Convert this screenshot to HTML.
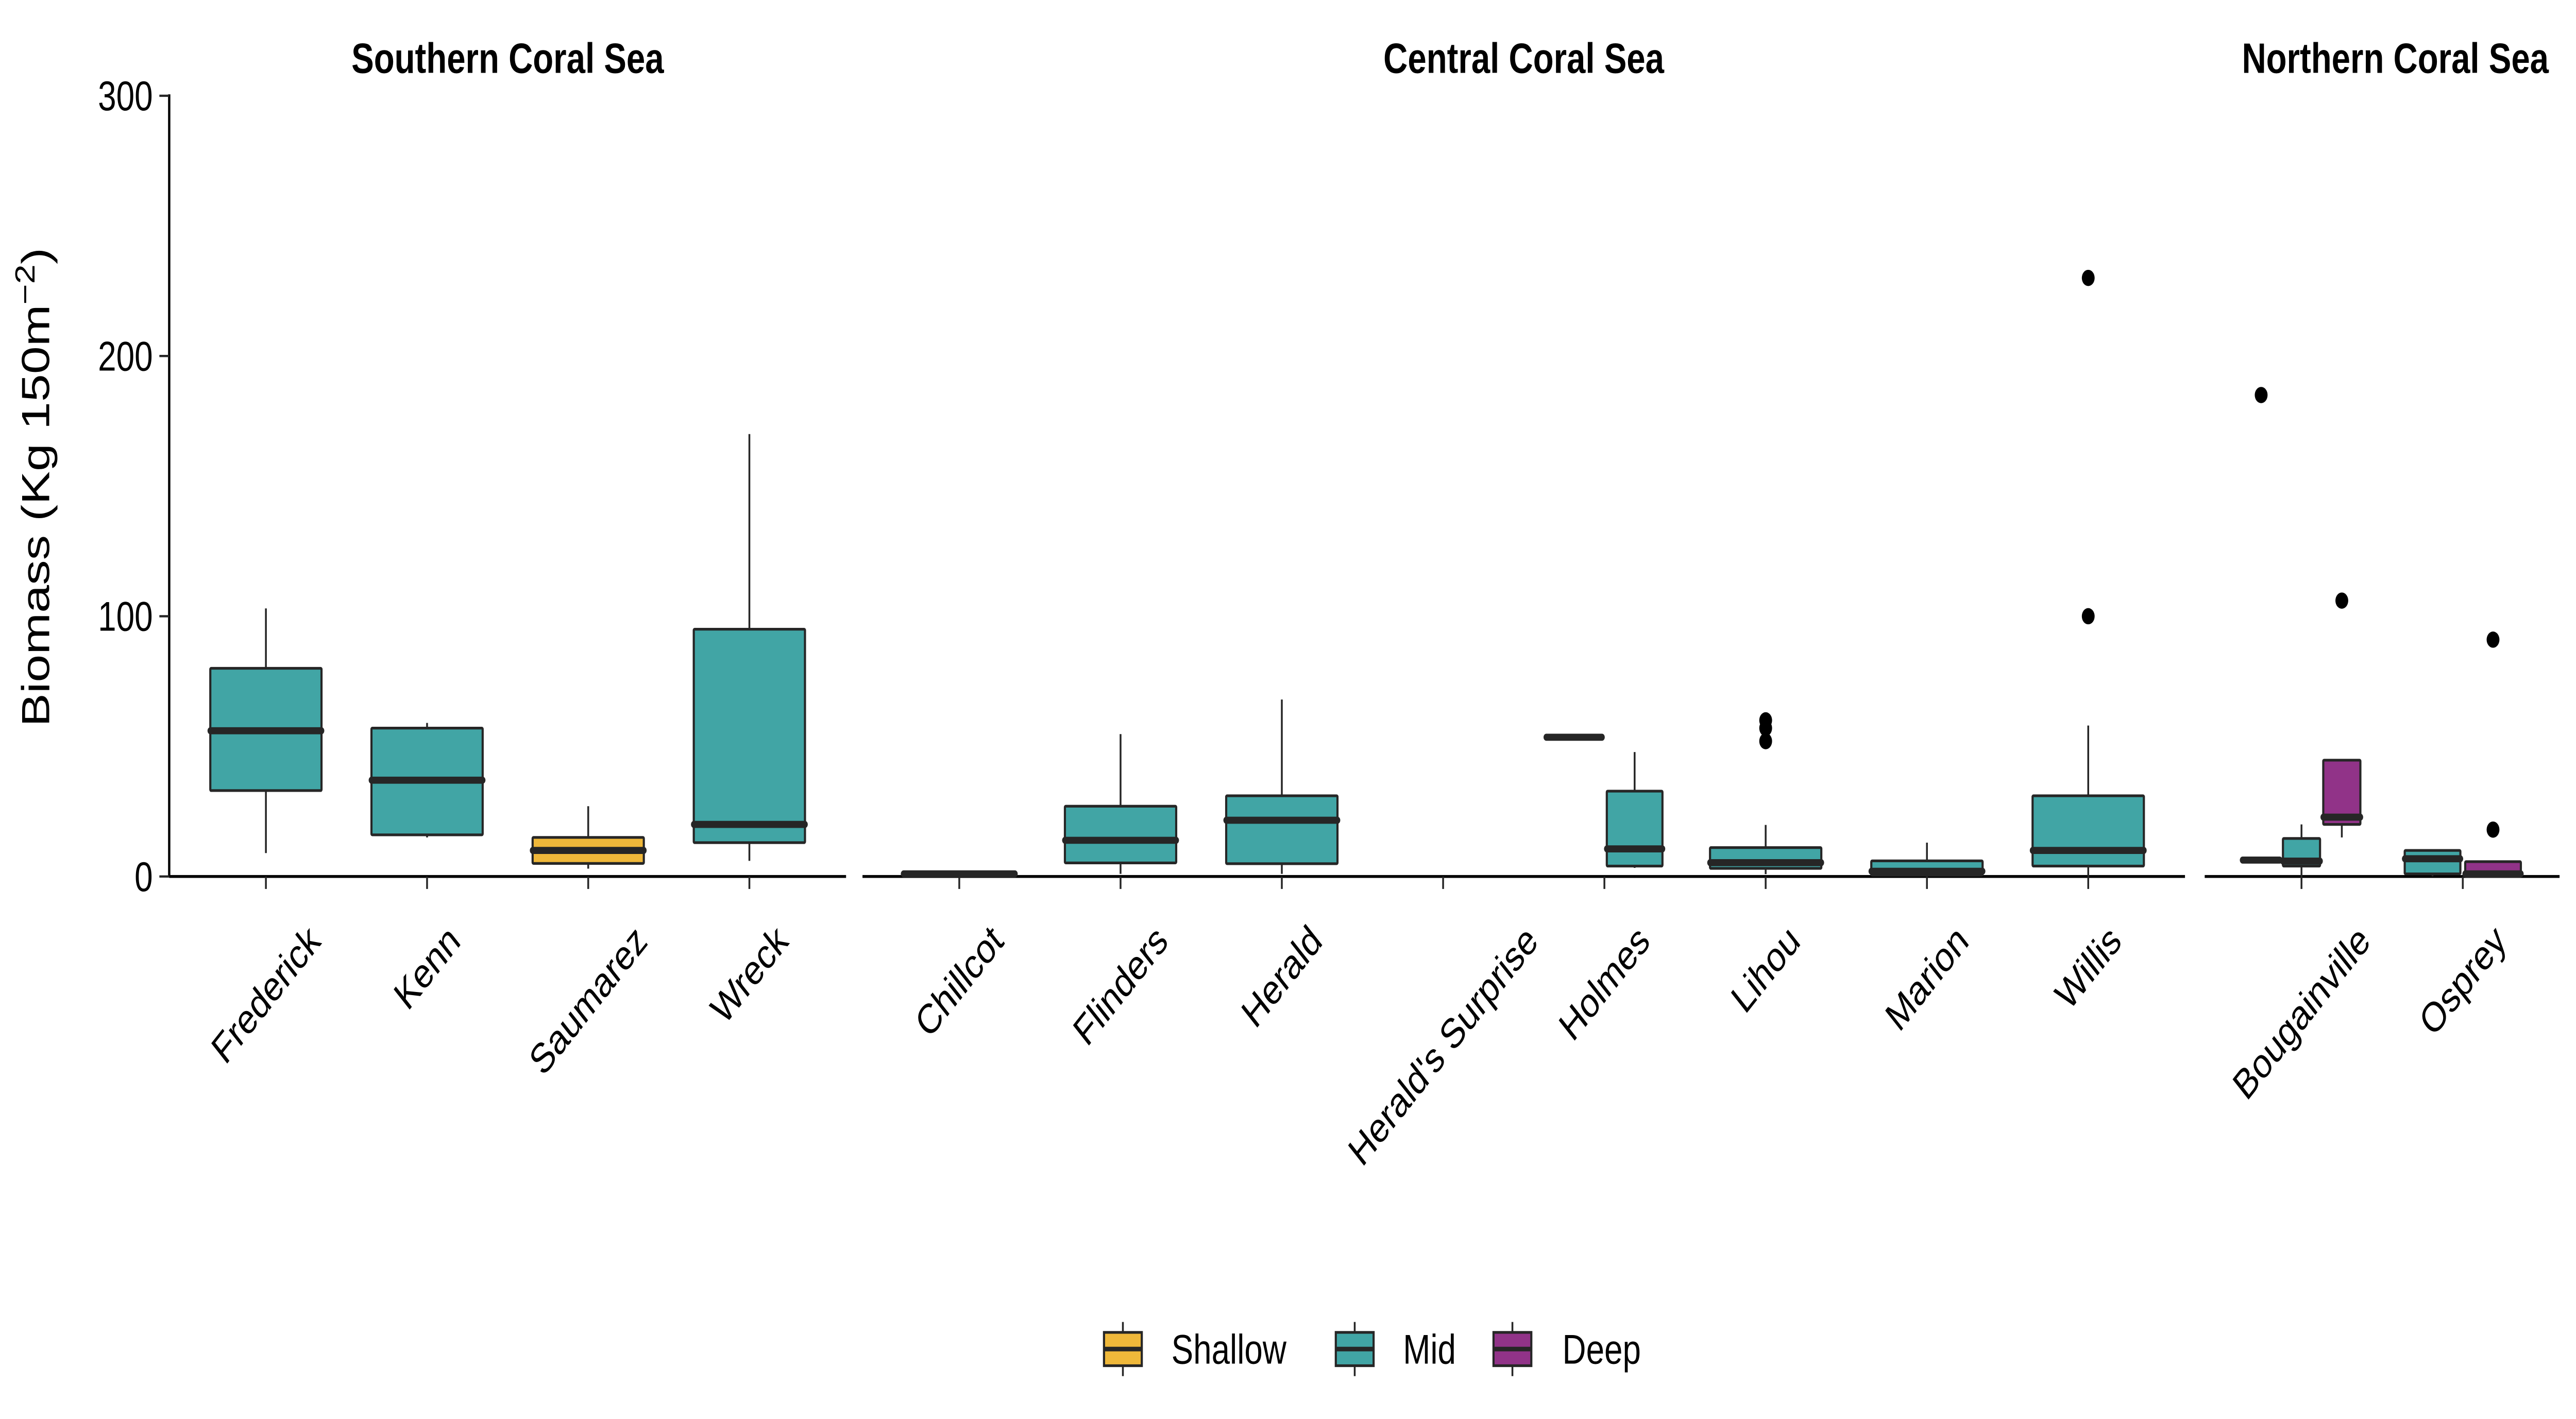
<!DOCTYPE html>
<html><head><meta charset="utf-8">
<style>
html,body{margin:0;padding:0;background:#fff;width:100%;height:100%;overflow:hidden;}
svg{display:block;width:100vw;height:100vh;}
text{font-family:"Liberation Sans",Arial,sans-serif;fill:#000;}
</style></head>
<body>
<svg id="chart" xmlns="http://www.w3.org/2000/svg" viewBox="0 0 1568 681.6" preserveAspectRatio="none">
<rect x="0" y="0" width="1568" height="681.6" fill="#fff"/>
<g id="axes"></g>
<g id="boxes"></g>
<g id="labels"></g>
<g id="legend"></g>
</svg>
<script>
// ---- data ----
const regions = ["Southern Coral Sea","Central Coral Sea","Northern Coral Sea"];
const regionSites = [
  ["Frederick","Kenn","Saumarez","Wreck"],
  ["Chillcot","Flinders","Herald","Herald's Surprise","Holmes","Lihou","Marion","Willis"],
  ["Bougainville","Osprey"]
];
const depths = ["Shallow","Mid","Deep"];
const yTicks = [0,100,200,300];
// per box: site, depth, lower whisker, q1, median, q3, upper whisker
const boxSite   = ["Frederick","Kenn","Saumarez","Wreck","Chillcot","Flinders","Herald","Holmes","Holmes","Lihou","Marion","Willis","Bougainville","Bougainville","Bougainville","Osprey","Osprey"];
const boxDepth  = ["Mid","Mid","Shallow","Mid","Mid","Mid","Mid","Shallow","Mid","Mid","Mid","Mid","Shallow","Mid","Deep","Mid","Deep"];
const boxLow    = [9,15,3,6,0.5,1,1,53.5,3.3,0.9,0,0,6,0,15,0,0];
const boxQ1     = [33,16,5,13,0.5,5.2,4.9,53.5,4,3.1,0.5,4,6,4,20,1,0];
const boxMed    = [56,37,10,20,1,13.9,21.6,53.5,10.6,5.3,2,10,6.3,5.9,22.8,6.8,1];
const boxQ3     = [80,57,15,95,1.2,27,31,53.5,32.8,11.1,6,31,6.6,14.6,44.7,10,5.7];
const boxHigh   = [103,59,27,170,1.2,54.7,68,53.5,47.8,19.8,13,58,6.6,20,44.7,10.4,5.7];
const outSite   = ["Lihou","Lihou","Lihou","Willis","Willis","Bougainville","Bougainville","Osprey","Osprey"];
const outDepth  = ["Mid","Mid","Mid","Mid","Mid","Shallow","Deep","Deep","Deep"];
const outValue  = [60,57,52,230,100,185,106,91,18];

// ---- layout ----
const fills = {Shallow:"#EFB83A",Mid:"#41A5A5",Deep:"#913388"};
const panelX = [[103,515],[525,1330],[1342,1558]];
const y0 = 421, yPer = 1.25;
const yScale = v => y0 - v*yPer;
const NS = "http://www.w3.org/2000/svg";
function mk(tag, attrs, parent){const e=document.createElementNS(NS,tag);for(const k in attrs)e.setAttribute(k,attrs[k]);parent.appendChild(e);return e;}
const axes=document.getElementById('axes'), boxesG=document.getElementById('boxes'), labels=document.getElementById('labels'), legend=document.getElementById('legend');

function panelScale(p){
  const n=regionSites[p].length, w=panelX[p][1]-panelX[p][0], unit=w/(n-1+1.2);
  return {unit, x:i=>panelX[p][0]+unit*(0.6+i)};
}
function siteInfo(site){
  for(let p=0;p<3;p++){const i=regionSites[p].indexOf(site);if(i>=0)return {p,i};}
  return null;
}
function dodge(site, depth){
  const {p,i}=siteInfo(site); const s=panelScale(p);
  const present=depths.filter(d=>boxSite.some((bs,k)=>bs===site&&boxDepth[k]===d));
  const n=present.length, k=present.indexOf(depth);
  const total=0.75*s.unit, slot=total/n;
  const cx=s.x(i)-total/2+slot*(k+0.5);
  return {cx, w:slot*0.92};
}

// axes & titles
for(let p=0;p<3;p++){
  const s=panelScale(p);
  const ax=mk('line',{x1:panelX[p][0],x2:panelX[p][1],y1:y0,y2:y0,stroke:'#000','stroke-width':1.4},axes);
  
  
  const t=mk('text',{x:(panelX[p][0]+panelX[p][1])/2+(p===2?8:0),y:35,'text-anchor':'middle','font-size':20.5,'font-weight':'bold'},labels);
  t.textContent=regions[p];
  
  
  regionSites[p].forEach((site,i)=>{
    const tk=mk('line',{x1:s.x(i),x2:s.x(i),y1:y0,y2:y0+6,stroke:'#262626','stroke-width':1.1},axes);
    
    
    const lb=mk('text',{x:0,y:0,'text-anchor':'middle','font-size':20,'dominant-baseline':'central'},labels);
    lb.textContent=site;
    
    
    const L=lb.getComputedTextLength();
    const yc=443+(L*0.7071+15*0.7071)/2;
    lb.setAttribute('transform','translate('+s.x(i)+','+yc+') rotate(-45)');
  });
}
const yl=mk('line',{x1:103,x2:103,y1:yScale(300)-0.7,y2:y0,stroke:'#000','stroke-width':1.4},axes);


yTicks.forEach(v=>{
  const tk=mk('line',{x1:97,x2:103,y1:yScale(v),y2:yScale(v),stroke:'#262626','stroke-width':1.1},axes);
  
  
  const lb=mk('text',{x:93,y:yScale(v)+7,'text-anchor':'end','font-size':20},labels);
  lb.textContent=v;
  
  
});
const yt=mk('text',{x:0,y:0,'text-anchor':'middle','font-size':24,transform:'translate(30,234) rotate(-90)'},labels);
yt.innerHTML='Biomass (Kg 150m<tspan dy="-9" font-size="17">−2</tspan><tspan dy="9">)</tspan>';



// boxes
boxSite.forEach((site,k)=>{
  const {cx,w}=dodge(site,boxDepth[k]);
  const g=mk('g',{},boxesG);
  
  
  mk('line',{x1:cx,x2:cx,y1:yScale(boxLow[k]),y2:yScale(boxQ1[k]),stroke:'#262626','stroke-width':1.1},g);
  mk('line',{x1:cx,x2:cx,y1:yScale(boxQ3[k]),y2:yScale(boxHigh[k]),stroke:'#262626','stroke-width':1.1},g);
  mk('rect',{x:cx-w/2,y:yScale(boxQ3[k]),width:w,height:Math.max(0.01,yScale(boxQ1[k])-yScale(boxQ3[k])),fill:fills[boxDepth[k]],stroke:'#262626','stroke-width':1.3,rx:0.5},g);
  mk('line',{x1:cx-w/2,x2:cx+w/2,y1:yScale(boxMed[k]),y2:yScale(boxMed[k]),stroke:'#262626','stroke-width':3.4,'stroke-linecap':'round'},g);
});
outSite.forEach((site,k)=>{
  const {cx}=dodge(site,outDepth[k]);
  const c=mk('circle',{cx:cx,cy:yScale(outValue[k]),r:3.9,fill:'#000'},boxesG);
  
  
});

// legend
const legX=[683.5,824.6,920.6], legTX=[713,854,951];
depths.forEach((d,i)=>{
  const g=mk('g',{},legend);
  
  
  mk('line',{x1:legX[i],x2:legX[i],y1:635,y2:661,stroke:'#262626','stroke-width':1.1},g);
  mk('rect',{x:legX[i]-11.5,y:640,width:23,height:16,fill:fills[d],stroke:'#262626','stroke-width':1.3},g);
  mk('line',{x1:legX[i]-11.5,x2:legX[i]+11.5,y1:648,y2:648,stroke:'#262626','stroke-width':2.2},g);
  const t=mk('text',{x:legTX[i],y:655,'font-size':20},g);
  t.textContent=d;
});
</script>
</body></html>
